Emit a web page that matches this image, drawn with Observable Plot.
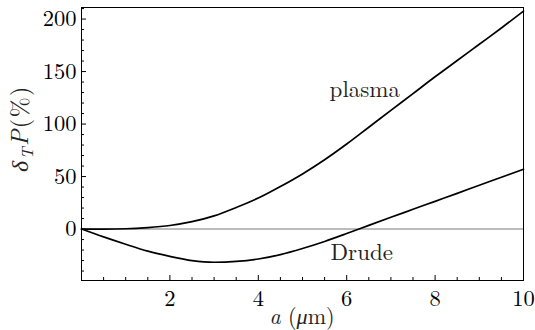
<!DOCTYPE html>
<html>
<head>
<meta charset="utf-8">
<script src="https://cdn.jsdelivr.net/npm/d3@7"></script>
<script src="https://cdn.jsdelivr.net/npm/@observablehq/plot@0.6"></script>
<style>
  html, body { margin: 0; padding: 0; background: #fff; }
</style>
</head>
<body>
<div id="chart"></div>
<script>
// ---- data ----
const aValues = [0, 0.5, 1, 1.5, 2, 2.5, 3, 3.5, 4, 4.5, 5, 5.5, 6, 6.5, 7, 7.5, 8, 8.5, 9, 9.5, 10];
const plasmaValues = [0, 0.02, 0.3, 1.4, 3.4, 7, 12.5, 20.5, 29.5, 40.5, 52.5, 66, 81, 97, 113, 129, 145, 160.5, 176, 191.5, 207.5];
const drudeValues = [0, -7.5, -14.5, -21, -26, -30, -31.6, -30.8, -28.5, -24.3, -18.5, -11.8, -4.3, 3.5, 11.2, 18.8, 26.4, 34, 41.7, 49.3, 57];
const seriesNames = ["plasma", "Drude"];
const xTicks = [2, 4, 6, 8, 10];
const xMinorTicks = [0.5, 1, 1.5, 2.5, 3, 3.5, 4.5, 5, 5.5, 6.5, 7, 7.5, 8.5, 9, 9.5];
const yTicks = [0, 50, 100, 150, 200];
const yMinorTicks = [-40, -30, -20, -10, 10, 20, 30, 40, 60, 70, 80, 90, 110, 120, 130, 140, 160, 170, 180, 190, 210];
const labelPos = [{name: "plasma", a: 6.41, v: 133}, {name: "Drude", a: 6.34, v: -22.4}];

// ---- build table ----
const rows = [];
aValues.forEach((a, i) => {
  rows.push({series: seriesNames[0], a, v: plasmaValues[i]});
  rows.push({series: seriesNames[1], a, v: drudeValues[i]});
});

const W = 535, H = 330;
const mL = 81, mR = 12, mT = 7, mB = 50;
const innerW = W - mL - mR, innerH = H - mT - mB;
const font = "Latin Modern Roman";

const svg = Plot.plot({
  width: W,
  height: H,
  marginLeft: mL,
  marginRight: mR,
  marginTop: mT,
  marginBottom: mB,
  style: {fontFamily: font, fontSize: "22.5px", background: "#fff", color: "black"},
  x: {domain: [0, 10]},
  y: {domain: [-49, 211]},
  marks: [
    Plot.ruleY([0], {stroke: "#7a7a7a", strokeWidth: 1.1}),
    Plot.line(rows, {x: "a", y: "v", z: "series", stroke: "black", strokeWidth: 1.7, curve: "monotone-x"}),
    Plot.text(labelPos, {x: "a", y: "v", text: "name", fontSize: 23, lineAnchor: "middle", textAnchor: "middle", fill: "#222"}),
    Plot.tickX(xTicks, {x: d => d, insetTop: innerH - 5, stroke: "black"}),
    Plot.tickX(xMinorTicks, {x: d => d, insetTop: innerH - 3, stroke: "black"}),
    Plot.tickY(yTicks, {y: d => d, insetRight: innerW - 5, stroke: "black"}),
    Plot.tickY(yMinorTicks, {y: d => d, insetRight: innerW - 3, stroke: "black"}),
    Plot.axisX({ticks: xTicks, tickSize: 0, tickPadding: 10, label: null, fontSize: 22.5}),
    Plot.axisY({ticks: yTicks, tickSize: 0, tickPadding: 5, label: null, fontSize: 22.5}),
    Plot.frame({stroke: "black", strokeWidth: 1})
  ]
});

const s = d3.select(svg);
const xs = svg.scale("x");
// x-axis title
const xt = s.append("text")
  .attr("x", (xs.range[0] + xs.range[1]) / 2)
  .attr("y", H - 6)
  .attr("text-anchor", "middle")
  .attr("font-family", font)
  .attr("font-size", 22)
  .attr("fill", "#222");
xt.append("tspan").attr("font-style", "italic").text("a");
xt.append("tspan").text(" (");
xt.append("tspan").attr("font-style", "italic").text("μ");
xt.append("tspan").text("m)");

// y-axis title
const yt = s.append("text")
  .attr("transform", "translate(28,128.5) rotate(-90)")
  .attr("text-anchor", "middle")
  .attr("font-family", font)
  .attr("font-size", 24)
  .attr("fill", "#222")
  .style("letter-spacing", "1.5px");
yt.append("tspan").attr("font-style", "italic").text("δ");
yt.append("tspan").attr("font-style", "italic").attr("font-size", 16.5).attr("dy", 5).text("T");
yt.append("tspan").attr("font-style", "italic").attr("dy", -5).text("P");
yt.append("tspan").text("(%)");

document.getElementById("chart").appendChild(svg);
</script>
</body>
</html>
